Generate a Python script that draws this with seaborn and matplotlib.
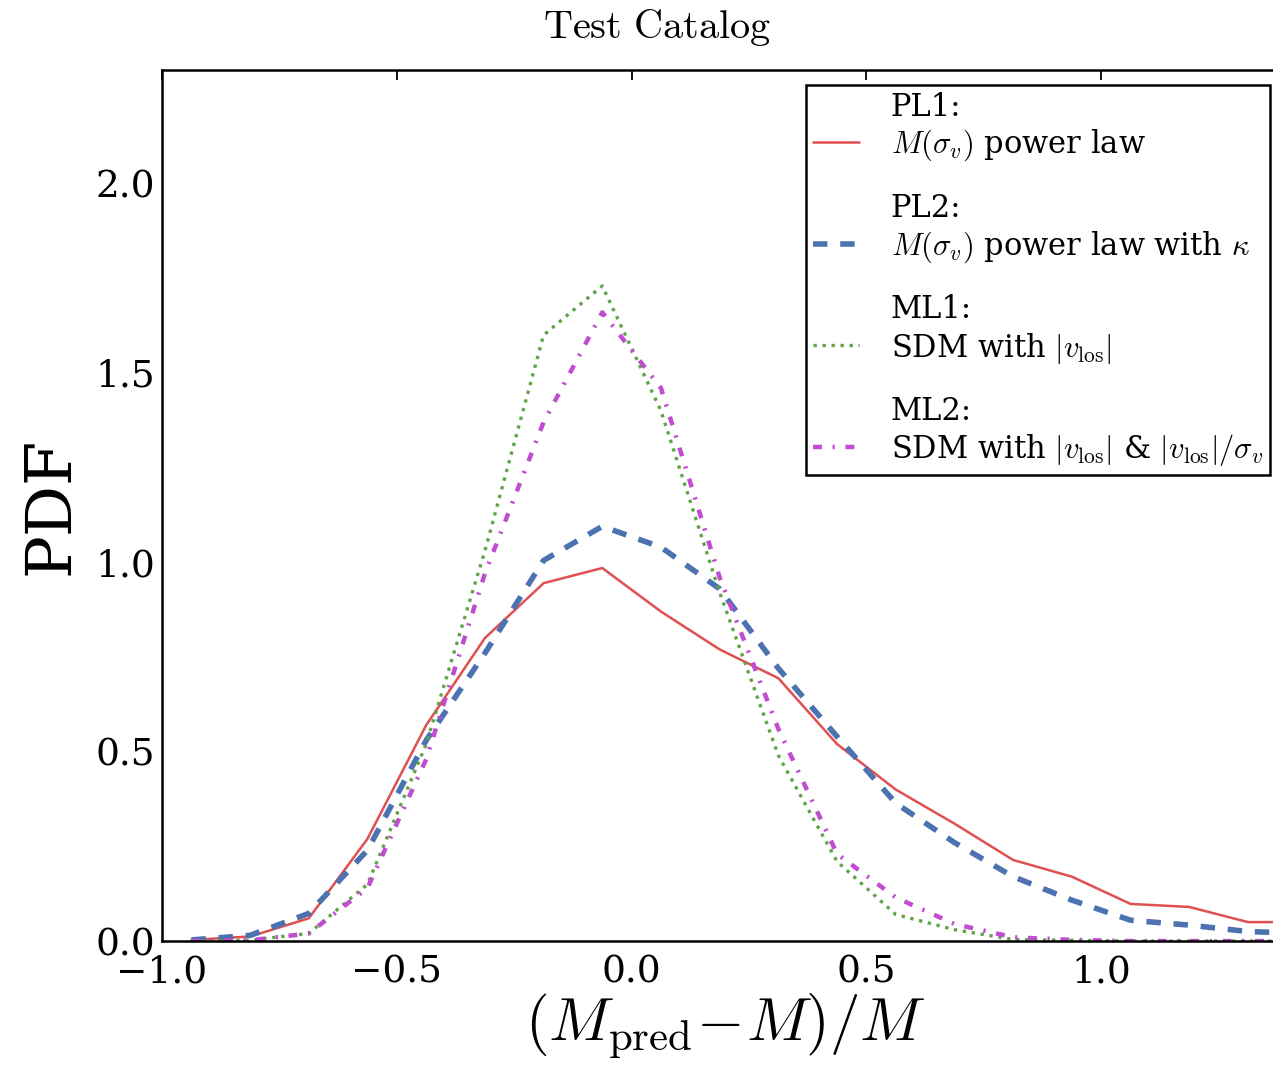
import numpy as np
import pandas as pd
import matplotlib
matplotlib.use("Agg")
import matplotlib.pyplot as plt
from matplotlib.legend_handler import HandlerLine2D
import seaborn as sns

# bin centres of the (M_pred - M)/M histograms (bin width 0.125)
x_centres = [-0.9375, -0.8125, -0.6875, -0.5625, -0.4375, -0.3125, -0.1875, -0.0625,
             0.0625, 0.1875, 0.3125, 0.4375, 0.5625, 0.6875, 0.8125, 0.9375,
             1.0625, 1.1875, 1.3125, 1.4375]

pdf_pl1 = [0.003, 0.012, 0.06, 0.27, 0.57, 0.80, 0.945, 0.985,
           0.87, 0.77, 0.694, 0.52, 0.40, 0.31, 0.214, 0.17,
           0.098, 0.09, 0.05, 0.05]
pdf_pl2 = [0.003, 0.015, 0.073, 0.24, 0.53, 0.76, 1.005, 1.095,
           1.04, 0.93, 0.72, 0.54, 0.364, 0.26, 0.17, 0.108,
           0.055, 0.042, 0.025, 0.02]
pdf_ml1 = [0.0, 0.002, 0.02, 0.15, 0.52, 1.03, 1.60, 1.73,
           1.40, 0.92, 0.49, 0.21, 0.07, 0.03, 0.004, 0.002,
           0.0, 0.0, 0.0, 0.0]
pdf_ml2 = [0.0, 0.002, 0.02, 0.14, 0.48, 0.97, 1.37, 1.66,
           1.46, 0.96, 0.56, 0.23, 0.115, 0.045, 0.01, 0.003,
           0.0, 0.0, 0.0, 0.0]

labels = [
    "PL1:\n$M(\\sigma_v)$ power law",
    "PL2:\n$M(\\sigma_v)$ power law with $\\kappa$",
    "ML1:\nSDM with $|v_{\\rm los}|$",
    "ML2:\nSDM with $|v_{\\rm los}|$ & $|v_{\\rm los}|/\\sigma_v$",
]
colors = ["#e05050", "#4c72b0", "#62a34a", "#c04cd0"]


# legend handle sits level with the second line of each label
class LowLine(HandlerLine2D):
    def create_artists(self, legend, orig_handle, xdescent, ydescent,
                       width, height, fontsize, trans):
        arts = super().create_artists(legend, orig_handle, xdescent, ydescent,
                                      width, height, fontsize, trans)
        for a in arts:
            a.set_ydata(np.asarray(a.get_ydata()) - 0.45 * fontsize)
        return arts


sns.set_style("white")
plt.rcParams["font.family"] = ["DejaVu Serif"]
plt.rcParams["mathtext.fontset"] = "cm"
plt.rcParams["text.color"] = "black"
plt.rcParams["axes.labelcolor"] = "black"

fig = plt.figure(figsize=(12.73, 10.74), dpi=100)
ax = fig.add_axes([0.1273, 0.1238, 0.8853, 0.811])

sns.lineplot(x=x_centres, y=pdf_pl1, ax=ax, color=colors[0], lw=1.8,
             linestyle="-", label=labels[0])
sns.lineplot(x=x_centres, y=pdf_pl2, ax=ax, color=colors[1], lw=4,
             linestyle=(0, (2.6, 2.3)), label=labels[1])
sns.lineplot(x=x_centres, y=pdf_ml1, ax=ax, color=colors[2], lw=2.4,
             linestyle=(0, (1, 1.7)), label=labels[2])
sns.lineplot(x=x_centres, y=pdf_ml2, ax=ax, color=colors[3], lw=3.2,
             linestyle=(0, (2, 2.4, 0.5, 2.4)), label=labels[3])

ax.set_xlim(-1.0, 1.4)
ax.set_ylim(0, 2.3)
ax.set_xticks([-1.0, -0.5, 0.0, 0.5, 1.0])
ax.set_yticks([0.0, 0.5, 1.0, 1.5, 2.0])
ax.tick_params(direction="in", length=7, width=1.3, labelsize=27,
               top=True, right=True, colors="black")
ax.tick_params(axis="x", pad=10)
ax.tick_params(axis="y", pad=5)
for s in ax.spines.values():
    s.set_color("black")
    s.set_linewidth(1.8)

ax.set_xlabel(r"$(M_{\rm pred}\!-\!M)/M$", fontsize=44, labelpad=0)
ax.set_ylabel("PDF", fontsize=46, labelpad=10)
fig.text(0.516, 1 - 27 / 1074, r"$\mathrm{Test\ Catalog}$", fontsize=29,
         ha="center", va="center")

handles, labs = ax.get_legend_handles_labels()
leg = ax.legend(handles, labs, loc="upper right", bbox_to_anchor=(0.983, 0.983),
                borderaxespad=0, fontsize=22, frameon=True, fancybox=False,
                framealpha=1, edgecolor="black", handlelength=1.5,
                handletextpad=1.05, labelspacing=0.98, borderpad=0.22,
                handler_map={h: LowLine() for h in handles})
leg.get_frame().set_linewidth(1.8)

fig.savefig("out.png", dpi=100)
